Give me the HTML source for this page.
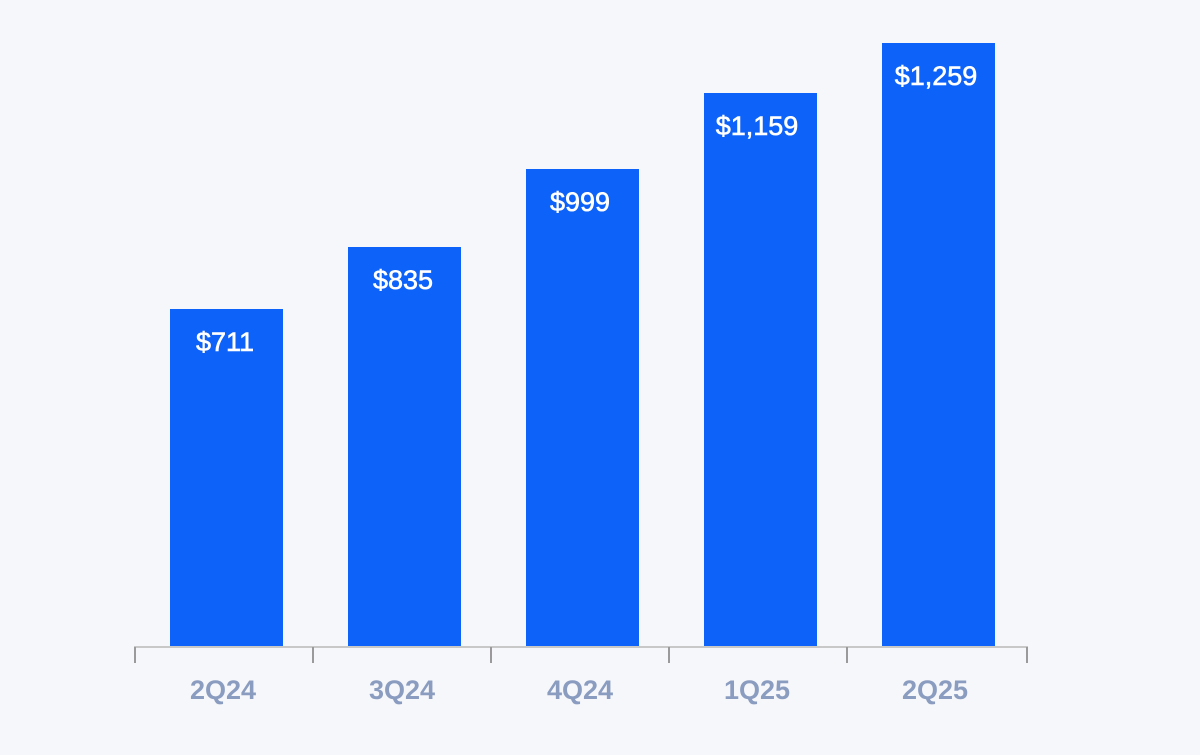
<!DOCTYPE html>
<html><head><meta charset="utf-8"><style>
body{margin:0;width:1200px;height:750px;background:#f6f7fa;overflow:hidden;font-family:"Liberation Sans",sans-serif}
</style></head><body>
<svg width="1200" height="750" xmlns="http://www.w3.org/2000/svg">
<g fill="#0d62fa">
<rect x="170" y="309" width="113" height="338"/>
<rect x="348" y="247" width="113" height="400"/>
<rect x="526" y="169" width="113" height="478"/>
<rect x="704" y="93" width="113" height="554"/>
<rect x="882" y="43" width="113" height="604"/>
</g>
<g fill="#fff" stroke="#fff" stroke-width="0.6" font-size="27" text-anchor="middle">
<text x="225" y="351">$711</text>
<text x="403" y="289">$835</text>
<text x="580" y="211">$999</text>
<text x="757" y="135">$1,159</text>
<text x="936" y="85">$1,259</text>
</g>
<line x1="134" y1="647" x2="1028" y2="647" stroke="#c8c8c8" stroke-width="2"/>
<g stroke="#9a9a9a" stroke-width="2">
<line x1="135" y1="647" x2="135" y2="663"/>
<line x1="313" y1="647" x2="313" y2="663"/>
<line x1="491" y1="647" x2="491" y2="663"/>
<line x1="669" y1="647" x2="669" y2="663"/>
<line x1="847" y1="647" x2="847" y2="663"/>
<line x1="1027" y1="647" x2="1027" y2="663"/>
</g>
<g fill="#8a9cc0" font-size="27" font-weight="bold" text-anchor="middle">
<text x="223" y="699">2Q24</text>
<text x="402" y="699">3Q24</text>
<text x="580" y="699">4Q24</text>
<text x="757" y="699">1Q25</text>
<text x="935" y="699">2Q25</text>
</g>
</svg>
</body></html>
